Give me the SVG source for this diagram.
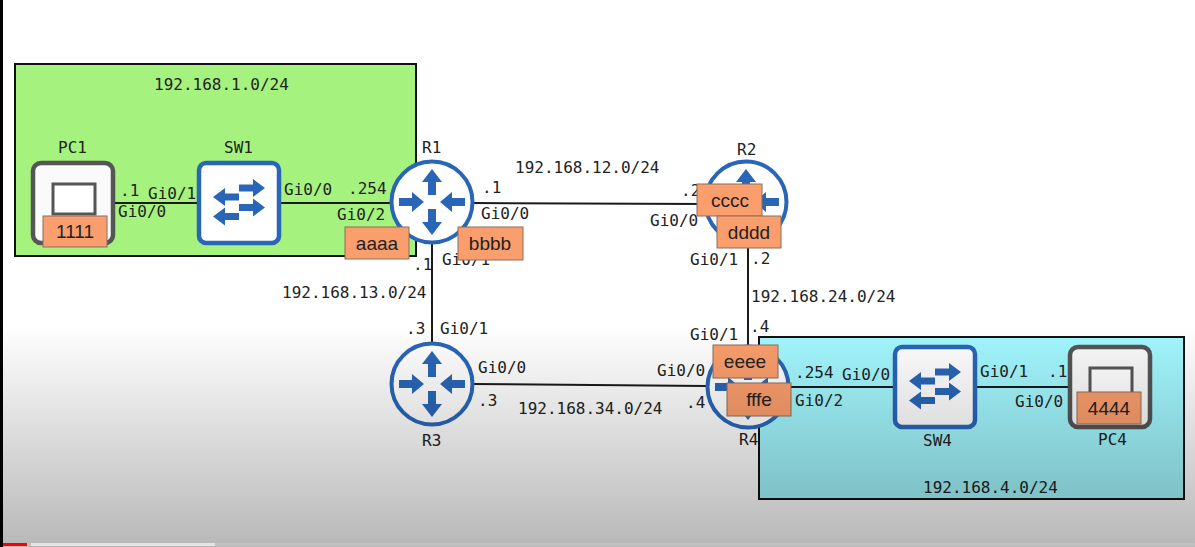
<svg xmlns="http://www.w3.org/2000/svg" width="1195" height="547" viewBox="0 0 1195 547">
<style>
text{font-family:"DejaVu Sans Mono","Liberation Mono",monospace;font-size:16px;fill:#222}
.zone{stroke:#111;stroke-width:2}
.link{stroke:#1a1a1a;stroke-width:2;fill:none}
.rt{fill:#fff;stroke:#2a66b8;stroke-width:4}
.sw{fill:#fff;stroke:#2a66b8;stroke-width:4.500}
.pc{fill:#fafafa;stroke:#555;stroke-width:4.500}
.scr{fill:#fff;stroke:#555;stroke-width:3}
.ar{fill:#2a66b8}
.tag{fill:#fb9e6d;stroke:#8c6f5c;stroke-width:1}
.tt{font-family:"Liberation Sans",Arial,sans-serif;font-size:19px;text-anchor:middle;fill:#222}
</style>
<defs>
<linearGradient id="shade" x1="0" y1="325" x2="0" y2="547" gradientUnits="userSpaceOnUse">
<stop offset="0" stop-color="#000" stop-opacity="0"/>
<stop offset="1" stop-color="#000" stop-opacity=".28"/>
</linearGradient>
<g id="router">
<circle class="rt" r="40.500"/>
<polygon class="ar" points="0,-33 10,-20 4,-20 4,-7 -4,-7 -4,-20 -10,-20"/>
<polygon class="ar" points="0,33 10,20 4,20 4,7 -4,7 -4,20 -10,20"/>
<polygon class="ar" points="-8,0 -20,-10 -20,-4 -33,-4 -33,4 -20,4 -20,10"/>
<polygon class="ar" points="8,0 20,-10 20,-4 33,-4 33,4 20,4 20,10"/>
</g>
<g id="switch">
<rect class="sw" x="-40" y="-40" width="80" height="80" rx="7"/>
<polygon class="ar" points="26,-15 14,-24 14,-18.500 0,-18.500 0,-11.500 14,-11.500 14,-6"/>
<polygon class="ar" points="-26,-6 -14,-15 -14,-9.500 0,-9.500 0,-2.500 -14,-2.500 -14,3"/>
<polygon class="ar" points="26,4.500 14,-4.500 14,1 0,1 0,8 14,8 14,13.500"/>
<polygon class="ar" points="-26,13.500 -14,4.500 -14,10 0,10 0,17 -14,17 -14,22.500"/>
</g>
<g id="pc">
<rect class="pc" x="-40" y="-40" width="80" height="80" rx="8"/>
<rect class="scr" x="-20" y="-19" width="42" height="30"/>
</g>
</defs>
<rect width="1195" height="547" fill="#fff"/>
<g id="zones">
<rect id="zone-lan1" class="zone" x="15" y="64" width="401" height="192" fill="#a6f27e"/>
<rect id="zone-lan4" class="zone" x="759" y="337" width="425" height="162" fill="#a2f7fe"/>
</g>
<g id="connectors">
<line class="link" x1="114" y1="203" x2="197" y2="203"/>
<line class="link" x1="281" y1="203" x2="392" y2="203"/>
<line class="link" x1="472" y1="203" x2="706" y2="204"/>
<line class="link" x1="432" y1="242" x2="432" y2="344"/>
<line class="link" x1="748" y1="242" x2="748" y2="346"/>
<line class="link" x1="472" y1="384" x2="706" y2="386"/>
<line class="link" x1="786" y1="387" x2="893" y2="387"/>
<line class="link" x1="976" y1="387" x2="1069" y2="387"/>
</g>
<g id="labels">
<text x="154" y="90">192.168.1.0/24</text>
<text x="120" y="196">.1</text>
<text x="148" y="199">Gi0/1</text>
<text x="118" y="217">Gi0/0</text>
<text x="284" y="195">Gi0/0</text>
<text x="348" y="194">.254</text>
<text x="337" y="220">Gi0/2</text>
<text x="482" y="193">.1</text>
<text x="481" y="219">Gi0/0</text>
<text x="515" y="173">192.168.12.0/24</text>
<text x="681" y="196">.2</text>
<text x="650" y="226">Gi0/0</text>
<text x="690" y="265">Gi0/1</text>
<text x="751" y="264">.2</text>
<text x="751" y="302">192.168.24.0/24</text>
<text x="690" y="340">Gi0/1</text>
<text x="750" y="332">.4</text>
<text x="442" y="265">Gi0/1</text>
<text x="413" y="270">.1</text>
<text x="282" y="298">192.168.13.0/24</text>
<text x="406" y="334">.3</text>
<text x="440" y="334">Gi0/1</text>
<text x="478" y="373">Gi0/0</text>
<text x="478" y="406">.3</text>
<text x="518" y="414">192.168.34.0/24</text>
<text x="657" y="376">Gi0/0</text>
<text x="686" y="408">.4</text>
<text x="795" y="378">.254</text>
<text x="842" y="380">Gi0/0</text>
<text x="795" y="406">Gi0/2</text>
<text x="980" y="377">Gi0/1</text>
<text x="1048" y="377">.1</text>
<text x="1015" y="407">Gi0/0</text>
<text x="923" y="493">192.168.4.0/24</text>
</g>
<g id="PC1"><use href="#pc" x="73" y="203"/><text x="58" y="153">PC1</text></g>
<g id="SW1"><use href="#switch" x="239" y="203"/><text x="224" y="153">SW1</text></g>
<g id="R1"><use href="#router" x="432" y="202"/><text x="422" y="153">R1</text></g>
<g id="R2"><use href="#router" x="746" y="202"/><text x="737" y="155">R2</text></g>
<g id="R3"><use href="#router" x="432" y="384"/><text x="422" y="446">R3</text></g>
<g id="R4"><use href="#router" x="748" y="387"/><text x="739" y="445">R4</text></g>
<g id="SW4"><use href="#switch" x="935" y="387"/><text x="923" y="446">SW4</text></g>
<g id="PC4"><use href="#pc" x="1110" y="387"/><text x="1098" y="445">PC4</text></g>
<g id="tags">
<rect class="tag" x="43" y="216" width="64" height="31"/><text class="tt" x="75" y="238">1111</text>
<rect class="tag" x="345" y="227" width="64" height="32"/><text class="tt" x="377" y="250">aaaa</text>
<rect class="tag" x="458" y="227" width="65" height="33"/><text class="tt" x="490" y="250">bbbb</text>
<rect class="tag" x="697" y="184" width="65" height="32"/><text class="tt" x="730" y="207">cccc</text>
<rect class="tag" x="717" y="216" width="64" height="32"/><text class="tt" x="749" y="239">dddd</text>
<rect class="tag" x="713" y="345" width="65" height="33"/><text class="tt" x="745" y="368">eeee</text>
<rect class="tag" x="727" y="383" width="64" height="33"/><text class="tt" x="759" y="406">fffe</text>
<rect class="tag" x="1077" y="392" width="64" height="32"/><text class="tt" x="1109" y="415">4444</text>
</g>
<rect id="shade-overlay" width="1195" height="547" fill="url(#shade)"/>
<g id="player-bar">
<rect x="0" y="543" width="1195" height="3" fill="#fff" opacity=".12"/>
<rect x="31" y="543" width="184" height="3" fill="#e4e4e4"/>
<rect x="0" y="543" width="27" height="3" fill="#f00"/>
</g>
<rect id="left-edge" width="3" height="547" fill="#000"/>
</svg>
